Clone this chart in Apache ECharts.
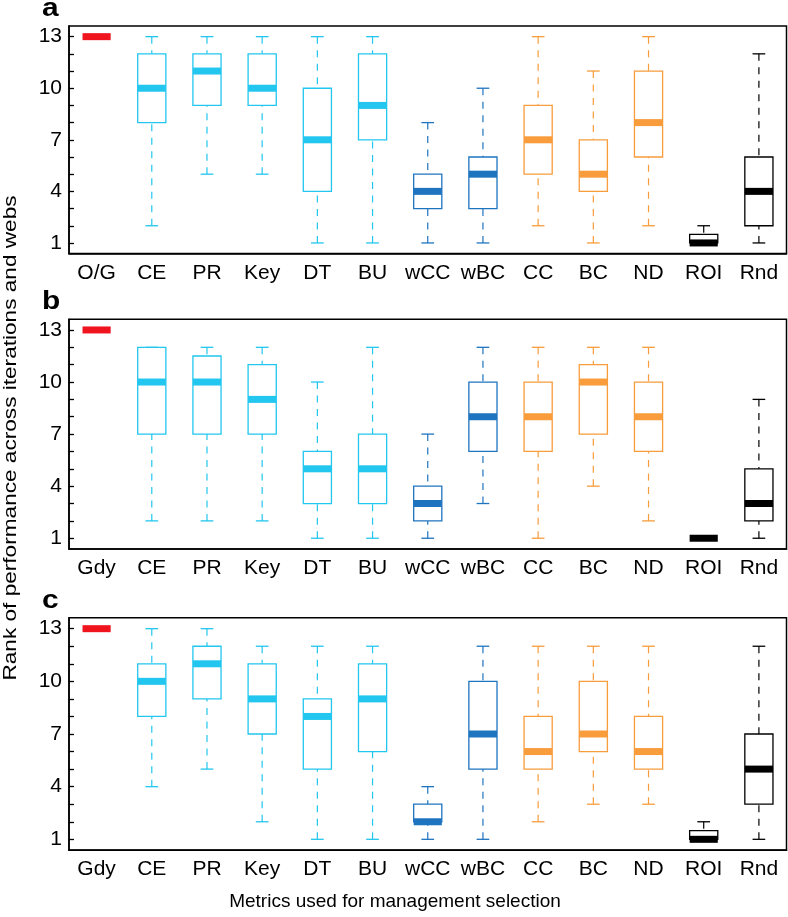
<!DOCTYPE html>
<html>
<head>
<meta charset="utf-8">
<script src="https://cdn.jsdelivr.net/npm/echarts@6/dist/echarts.min.js"></script>
<style>
  html, body { margin: 0; padding: 0; background: #fff; }
  #chart { width: 788px; height: 917px; }
</style>
</head>
<body>
<div id="chart"></div>
<script>
// categories (first one differs between panel a and panels b/c)
const categoriesA = ['O/G', 'CE', 'PR', 'Key', 'DT', 'BU', 'wCC', 'wBC', 'CC', 'BC', 'ND', 'ROI', 'Rnd'];
const categoriesBC = ['Gdy', 'CE', 'PR', 'Key', 'DT', 'BU', 'wCC', 'wBC', 'CC', 'BC', 'ND', 'ROI', 'Rnd'];

// box stats per metric: [low whisker, Q1, median, Q3, high whisker]
const statsA = [
  [13, 13, 13, 13, 13],
  [2, 8, 10, 12, 13],
  [5, 9, 11, 12, 13],
  [5, 9, 10, 12, 13],
  [1, 4, 7, 10, 13],
  [1, 7, 9, 12, 13],
  [1, 3, 4, 5, 8],
  [1, 3, 5, 6, 10],
  [2, 5, 7, 9, 13],
  [1, 4, 5, 7, 11],
  [2, 6, 8, 11, 13],
  [1, 1, 1, 1.5, 2],
  [1, 2, 4, 6, 12]
];
const statsB = [
  [13, 13, 13, 13, 13],
  [2, 7, 10, 12, 12],
  [2, 7, 10, 11.5, 12],
  [2, 7, 9, 11, 12],
  [1, 3, 5, 6, 10],
  [1, 3, 5, 7, 12],
  [1, 2, 3, 4, 7],
  [3, 6, 8, 10, 12],
  [1, 6, 8, 10, 12],
  [4, 7, 10, 11, 12],
  [2, 6, 8, 10, 12],
  [1, 1, 1, 1, 1],
  [1, 2, 3, 5, 9]
];
const statsC = [
  [13, 13, 13, 13, 13],
  [4, 8, 10, 11, 13],
  [5, 9, 11, 12, 13],
  [2, 7, 9, 11, 12],
  [1, 5, 8, 9, 12],
  [1, 6, 9, 11, 12],
  [1, 2, 2, 3, 4],
  [1, 5, 7, 10, 12],
  [2, 5, 6, 8, 12],
  [3, 6, 7, 10, 12],
  [3, 5, 6, 8, 12],
  [1, 1, 1, 1.5, 2],
  [1, 3, 5, 7, 12]
];
const yTickLabels = [1, 4, 7, 10, 13];
const yMinorTicks = [1, 2, 3, 4, 5, 6, 7, 8, 9, 10, 11, 12, 13];

const RED = '#f0141e', CYAN = '#22c6ef', BLUE = '#1f74bf', ORANGE = '#f89c3c', BLACK = '#000';
const boxColors = [RED, CYAN, CYAN, CYAN, CYAN, CYAN, BLUE, BLUE, ORANGE, ORANGE, ORANGE, BLACK, BLACK];

const FONT = "'Liberation Sans', Arial, Helvetica, sans-serif";

// grid layout for the three stacked panels
const panels = [
  { top: 26, height: 227.6, cats: categoriesA, stats: statsA, letter: 'a' },
  { top: 319.2, height: 229.8, cats: categoriesBC, stats: statsB, letter: 'b' },
  { top: 617.8, height: 232.4, cats: categoriesBC, stats: statsC, letter: 'c' }
];

function renderBox(params, api) {
  const i = api.value(0);
  const color = boxColors[i];
  const band = api.size([1, 0])[0];
  const half = band * 0.255;
  const capHalf = band * 0.115;
  const pLow = api.coord([i, api.value(1)]);
  const pQ1 = api.coord([i, api.value(2)]);
  const pMed = api.coord([i, api.value(3)]);
  const pQ3 = api.coord([i, api.value(4)]);
  const pHigh = api.coord([i, api.value(5)]);
  const cx = pMed[0];
  const children = [];
  const dashed = { stroke: color, lineWidth: 1.2, lineDash: [7, 6.5], fill: null };
  const solid = { stroke: color, lineWidth: 1.3, fill: null };

  if (api.value(1) !== api.value(5)) {
    if (pHigh[1] < pQ3[1]) {
      children.push({ type: 'line', shape: { x1: cx, y1: pHigh[1], x2: cx, y2: pQ3[1] }, style: dashed });
    }
    if (pLow[1] > pQ1[1]) {
      children.push({ type: 'line', shape: { x1: cx, y1: pLow[1], x2: cx, y2: pQ1[1] }, style: dashed });
    }
    children.push({ type: 'line', shape: { x1: cx - capHalf, y1: pHigh[1], x2: cx + capHalf, y2: pHigh[1] }, style: solid });
    children.push({ type: 'line', shape: { x1: cx - capHalf, y1: pLow[1], x2: cx + capHalf, y2: pLow[1] }, style: solid });
    children.push({
      type: 'rect',
      shape: { x: cx - half, y: pQ3[1], width: half * 2, height: pQ1[1] - pQ3[1] },
      style: { stroke: color, lineWidth: 1.3, fill: '#fff' }
    });
  }
  children.push({
    type: 'rect',
    shape: { x: cx - half, y: pMed[1] - 3.5, width: half * 2, height: 7 },
    style: { fill: color }
  });
  return { type: 'group', children: children };
}

const grids = [], xAxes = [], yAxes = [], series = [], graphics = [];
panels.forEach(function (p, k) {
  grids.push({
    left: 69, right: 1.5, top: p.top, height: p.height,
    show: true, borderColor: '#000', borderWidth: 1.5, backgroundColor: 'transparent'
  });
  xAxes.push({
    type: 'category', gridIndex: k, data: p.cats, boundaryGap: true,
    axisLine: { lineStyle: { color: '#000', width: 1.5 } },
    axisTick: { inside: true, alignWithLabel: true, length: 6, lineStyle: { color: '#000', width: 1.3 } },
    axisLabel: { interval: 0, margin: 9, color: '#000', fontSize: 21, fontFamily: FONT, hideOverlap: false },
    splitLine: { show: false }
  });
  yAxes.push({
    type: 'value', gridIndex: k, min: 0.38, max: 13.62,
    axisLine: { show: true, lineStyle: { color: '#000', width: 1.5 } },
    axisTick: { show: true, inside: true, length: 5, customValues: yMinorTicks, lineStyle: { color: '#000', width: 1.3 } },
    axisLabel: { customValues: yTickLabels, margin: 7, color: '#000', fontSize: 21, fontFamily: FONT },
    splitLine: { show: false }
  });
  series.push({
    type: 'custom', xAxisIndex: k, yAxisIndex: k,
    renderItem: renderBox,
    encode: { x: 0, y: [1, 2, 3, 4, 5] },
    data: p.stats.map(function (r, i) { return [i].concat(r); }),
    silent: true
  });
  graphics.push({
    type: 'text', x: 42, y: p.top - 4, scaleX: 1.15,
    style: { text: p.letter, font: 'bold 26px ' + FONT, fill: '#000', verticalAlign: 'bottom' }
  });
});

graphics.push({
  type: 'text', x: 11, y: 438, rotation: Math.PI / 2, scaleX: 1.19,
  style: { text: 'Rank of performance across iterations and webs', font: '19px ' + FONT, fill: '#000', align: 'center', verticalAlign: 'middle' }
});
graphics.push({
  type: 'text', x: 395, y: 902,
  style: { text: 'Metrics used for management selection', font: '19px ' + FONT, fill: '#000', align: 'center', verticalAlign: 'middle' }
});

const chart = echarts.init(document.getElementById('chart'), null, { renderer: 'canvas' });
chart.setOption({
  backgroundColor: '#fff',
  animation: false,
  grid: grids,
  xAxis: xAxes,
  yAxis: yAxes,
  series: series,
  graphic: graphics
});
</script>
</body>
</html>
